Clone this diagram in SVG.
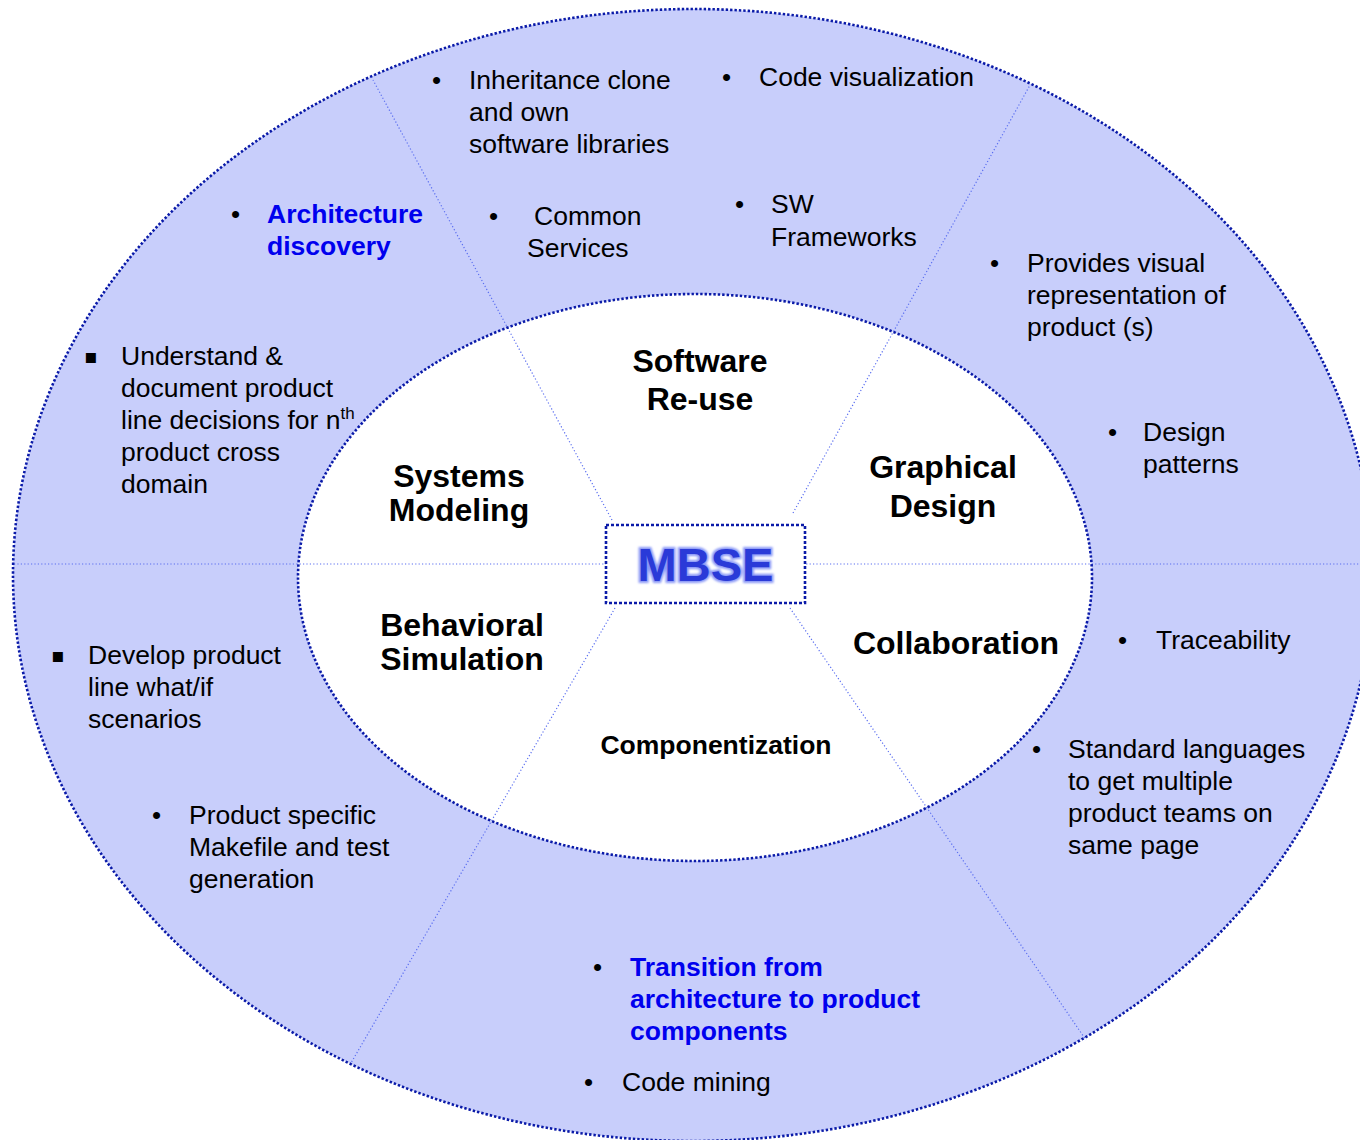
<svg xmlns="http://www.w3.org/2000/svg" width="1360" height="1140" viewBox="0 0 1360 1140">
<defs>
<filter id="glow" x="-10%" y="-20%" width="120%" height="140%">
<feGaussianBlur stdDeviation="1.2"/>
</filter>
</defs>
<style>
.t{font-family:"Liberation Sans",Arial,sans-serif;font-size:26.5px;fill:#000}
.b{font-family:"Liberation Sans",Arial,sans-serif;font-size:26.5px;font-weight:bold;fill:#0000ee}
.h{font-family:"Liberation Sans",Arial,sans-serif;font-size:32px;font-weight:bold;fill:#000;text-anchor:middle}
.h2{font-family:"Liberation Sans",Arial,sans-serif;font-size:26.5px;font-weight:bold;fill:#000;text-anchor:middle}
.bu{font-family:"Liberation Sans","DejaVu Sans",sans-serif;font-size:26px;fill:#000}
.sq{font-family:"DejaVu Sans","Liberation Sans",sans-serif;font-size:20px;fill:#000}
.ring{fill:none;stroke:#0a1aa8;stroke-width:2.6;stroke-dasharray:2.4 2}
.div{stroke:#5a6ef0;stroke-width:1.2;stroke-dasharray:1.2 2.2;fill:none}
</style>
<rect width="1360" height="1140" fill="#fff"/>
<g id="outer-ring">
<ellipse cx="693" cy="575" rx="680" ry="566" fill="#c8cefb"/>
</g>
<g id="inner-core">
<ellipse cx="695" cy="577.5" rx="397" ry="283.5" fill="#fff"/>
</g>
<g id="connectors">
<line class="div" x1="14" y1="564" x2="1360" y2="564"/>
<line class="div" x1="612" y1="520" x2="373" y2="80"/>
<line class="div" x1="793" y1="513" x2="1030" y2="85"/>
<line class="div" x1="615" y1="608" x2="351" y2="1063"/>
<line class="div" x1="790" y1="608" x2="1086" y2="1040"/>
</g>
<g id="ring-borders">
<ellipse class="ring" cx="693" cy="575" rx="680" ry="566"/>
<ellipse class="ring" cx="695" cy="577.5" rx="397" ry="283.5"/>
</g>
<g id="mbse">
<rect x="606" y="525" width="199" height="78" fill="#fff" stroke="#0a1aa8" stroke-width="2.6" stroke-dasharray="3 2"/>
<text x="705.5" y="581" text-anchor="middle" font-family="Liberation Sans,Arial,sans-serif" font-size="47" font-weight="bold" fill="#6f80f4" stroke="#8a98f6" stroke-width="4" filter="url(#glow)">MBSE</text>
<text x="705.5" y="581" text-anchor="middle" font-family="Liberation Sans,Arial,sans-serif" font-size="47" font-weight="bold" fill="#2a3ad8">MBSE</text>
</g>
<g id="software-reuse">
<text class="h" x="700" y="372">Software</text>
<text class="h" x="700" y="410">Re-use</text>
</g>
<g id="systems-modeling">
<text class="h" x="459" y="487">Systems</text>
<text class="h" x="459" y="521">Modeling</text>
</g>
<g id="graphical-design">
<text class="h" x="943" y="478">Graphical</text>
<text class="h" x="943" y="517">Design</text>
</g>
<g id="behavioral-simulation">
<text class="h" x="462" y="636">Behavioral</text>
<text class="h" x="462" y="670">Simulation</text>
</g>
<g id="collaboration">
<text class="h" x="956" y="654">Collaboration</text>
</g>
<g id="componentization">
<text class="h2" x="716" y="754">Componentization</text>
</g>
<g id="reuse-items">
<text class="bu" x="432" y="89">•</text>
<text class="t" x="469" y="89">Inheritance clone</text>
<text class="t" x="469" y="121">and own</text>
<text class="t" x="469" y="153">software libraries</text>
<text class="bu" x="722" y="86">•</text>
<text class="t" x="759" y="86">Code visualization</text>
<text class="bu" x="489" y="225">•</text>
<text class="t" x="534" y="225">Common</text>
<text class="t" x="527" y="257">Services</text>
<text class="bu" x="735" y="213">•</text>
<text class="t" x="771" y="213">SW</text>
<text class="t" x="771" y="246">Frameworks</text>
</g>
<g id="modeling-items">
<text class="bu" x="231" y="223">•</text>
<text class="b" x="267" y="223">Architecture</text>
<text class="b" x="267" y="255">discovery</text>
<text class="sq" x="84" y="363">▪</text>
<text class="t" x="121" y="365">Understand &amp;</text>
<text class="t" x="121" y="397">document product</text>
<text class="t" x="121" y="429">line decisions for n<tspan font-size="17" dy="-10">th</tspan></text>
<text class="t" x="121" y="461">product cross</text>
<text class="t" x="121" y="493">domain</text>
</g>
<g id="design-items">
<text class="bu" x="990" y="272">•</text>
<text class="t" x="1027" y="272">Provides visual</text>
<text class="t" x="1027" y="304">representation of</text>
<text class="t" x="1027" y="336">product (s)</text>
<text class="bu" x="1108" y="441">•</text>
<text class="t" x="1143" y="441">Design</text>
<text class="t" x="1143" y="473">patterns</text>
</g>
<g id="collaboration-items">
<text class="bu" x="1118" y="649">•</text>
<text class="t" x="1156" y="649">Traceability</text>
<text class="bu" x="1032" y="758">•</text>
<text class="t" x="1068" y="758">Standard languages</text>
<text class="t" x="1068" y="790">to get multiple</text>
<text class="t" x="1068" y="822">product teams on</text>
<text class="t" x="1068" y="854">same page</text>
</g>
<g id="simulation-items">
<text class="sq" x="51" y="662">▪</text>
<text class="t" x="88" y="664">Develop product</text>
<text class="t" x="88" y="696">line what/if</text>
<text class="t" x="88" y="728">scenarios</text>
<text class="bu" x="152" y="824">•</text>
<text class="t" x="189" y="824">Product specific</text>
<text class="t" x="189" y="856">Makefile and test</text>
<text class="t" x="189" y="888">generation</text>
</g>
<g id="component-items">
<text class="bu" x="593" y="976">•</text>
<text class="b" x="630" y="976">Transition from</text>
<text class="b" x="630" y="1008">architecture to product</text>
<text class="b" x="630" y="1040">components</text>
<text class="bu" x="584" y="1091">•</text>
<text class="t" x="622" y="1091">Code mining</text>
</g>
</svg>
